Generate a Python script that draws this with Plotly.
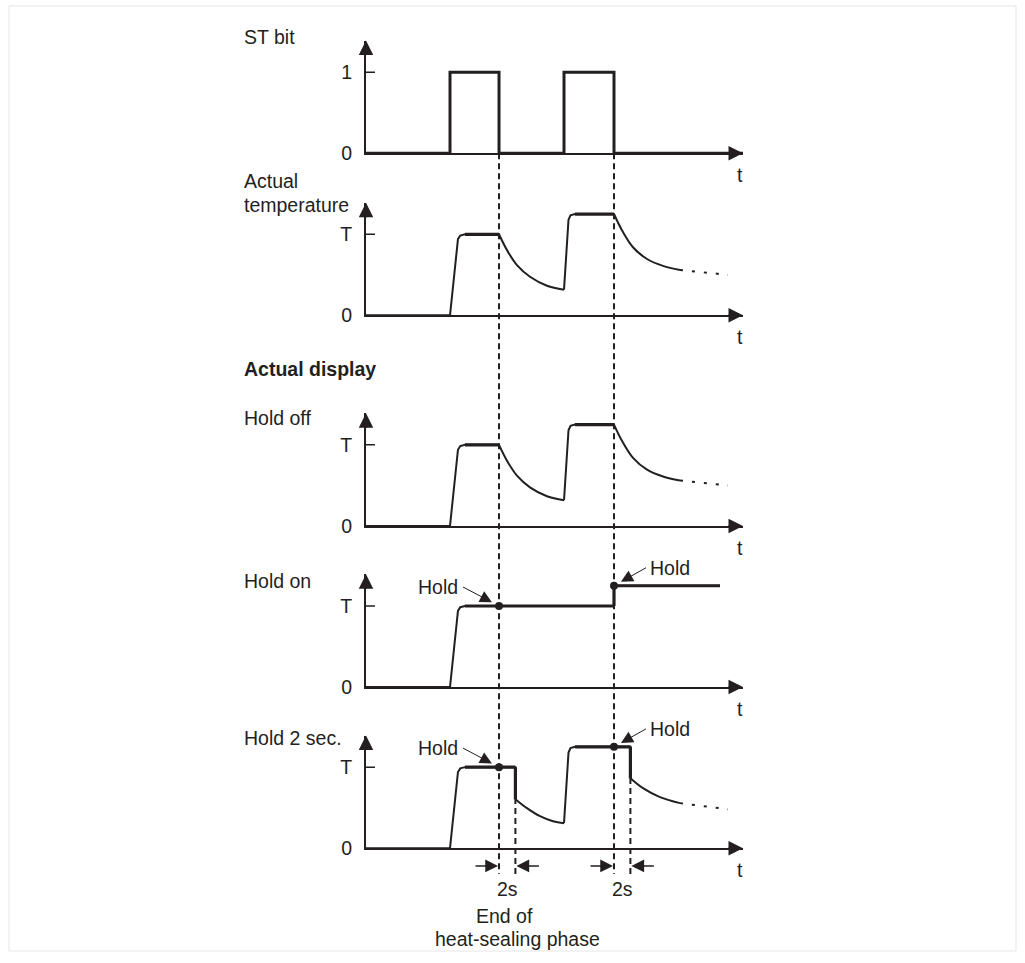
import plotly.graph_objects as go

W, H = 1025, 963
INK = "#231f20"
FONT = "Liberation Sans, Arial, sans-serif"
FS = 19.5

# time axis in seconds, levels in units of T (ST bit: 0/1)
st_t = [0, 10.25, 10.25, 16.23, 16.23, 24.16, 24.16, 30.26, 30.26, 46]
st_v = [0, 0, 1, 1, 0, 0, 1, 1, 0, 0]

temp_t = [0, 10.25, 11.22, 11.5, 12.08, 16.23, 17.2, 18.42, 20.01, 22.08, 24.16,
          24.71, 24.95, 25.5, 30.26, 31.23, 32.58, 34.29, 36.24, 38.31]
temp_v = [0, 0, 0.94, 0.985, 1, 1, 0.805, 0.62, 0.476, 0.366, 0.317,
          1.18, 1.235, 1.25, 1.25, 1.05, 0.84, 0.695, 0.61, 0.56]
temp_tail_t = [38.31, 44.17]
temp_tail_v = [0.56, 0.50]

hold_on_t = [0, 10.25, 11.22, 11.5, 12.08, 30.26, 30.26, 43.19]
hold_on_v = [0, 0, 0.94, 0.985, 1, 1, 1.25, 1.25]

hold2_t = [0, 10.25, 11.22, 11.5, 12.08, 18.23, 18.23, 19.64, 21.23, 22.82, 24.16,
           24.71, 24.95, 25.5, 32.26, 32.26, 33.8, 35.87, 38.31]
hold2_v = [0, 0, 0.94, 0.985, 1, 1, 0.605, 0.494, 0.395, 0.333, 0.309,
           1.18, 1.235, 1.25, 1.25, 0.864, 0.741, 0.63, 0.556]
hold2_tail_t = [38.31, 44.17]
hold2_tail_v = [0.556, 0.48]

st_off = [16.23, 30.26]      # end of heat-sealing phase
hold_level = [1, 1.25]       # value that gets held
hold_2s = [18.23, 32.26]     # end of the 2 s hold

T_MAX = 46
PX_PER_UNIT = 82.0
X0, X1 = 366, 743


def py(p):
    return 1 - p / H


def px(p):
    return p / W


# zero line / arrow tip of every panel (pixels from top)
panels = [
    dict(zero=155, tip=41, ticks=["0", "1"]),
    dict(zero=319, tip=205, ticks=["0", "T"]),
    dict(zero=532, tip=418, ticks=["0", "T"]),
    dict(zero=695, tip=581, ticks=["0", "T"]),
    dict(zero=858, tip=744, ticks=["0", "T"]),
]

fig = go.Figure()
annotations = []
shapes = []

for i, p in enumerate(panels, start=1):
    s = "" if i == 1 else str(i)
    fig.layout["xaxis" + s] = dict(
        domain=[px(X0), px(X1)], range=[0, T_MAX], anchor="y" + s,
        showline=True, linewidth=2, linecolor=INK, showticklabels=False,
        ticks="", showgrid=False, zeroline=False, fixedrange=True)
    fig.layout["yaxis" + s] = dict(
        domain=[py(p["zero"]), py(p["tip"])],
        range=[0, (p["zero"] - p["tip"]) / PX_PER_UNIT], anchor="x" + s,
        showline=True, linewidth=2, linecolor=INK, tickvals=[0, 1],
        ticktext=p["ticks"], ticks="", ticklabelstandoff=8,
        tickfont=dict(size=FS, color=INK, family=FONT),
        showgrid=False, zeroline=False, fixedrange=True)
    # axis arrow heads
    annotations.append(dict(xref=f"x{s} domain", yref=f"y{s} domain", x=0, y=1,
                            ax=0, ay=16, text="", showarrow=True, arrowhead=2,
                            arrowsize=1.45, arrowwidth=2, arrowcolor=INK))
    annotations.append(dict(xref=f"x{s} domain", yref=f"y{s} domain", x=1, y=0,
                            ax=-16, ay=0, text="", showarrow=True, arrowhead=2,
                            arrowsize=1.45, arrowwidth=2, arrowcolor=INK))
    # "t" under the time axis
    annotations.append(dict(xref=f"x{s} domain", yref=f"y{s} domain", x=1, y=0,
                            xanchor="center", yanchor="middle", yshift=-22, xshift=-3,
                            text="t", showarrow=False, font=dict(size=FS, color=INK)))
    # tick crossing the axis at 1 / T
    shapes.append(dict(type="line", xref="x" + s, yref="y" + s, xsizemode="pixel",
                       xanchor=0, x0=-9, x1=9, y0=1, y1=1,
                       line=dict(color=INK, width=1.5)))


def add_line(t, v, i, width=2, dash=None, shape="linear"):
    s = "" if i == 1 else str(i)
    fig.add_trace(go.Scatter(x=t, y=v, xaxis="x" + s, yaxis="y" + s, mode="lines",
                             line=dict(color=INK, width=width, dash=dash, shape=shape),
                             hoverinfo="skip", showlegend=False))


def add_curve(t, v, i):
    # edges and plateaus straight, cooling parts smoothed
    runs = []
    for k in range(len(t) - 1):
        decay = v[k + 1] < v[k] and t[k + 1] > t[k]
        if runs and runs[-1][0] == decay:
            runs[-1][1].append(k + 1)
        else:
            runs.append((decay, [k, k + 1]))
    for decay, idx in runs:
        add_line([t[j] for j in idx], [v[j] for j in idx], i, width=2,
                 shape="spline" if decay else "linear")
    # plateaus and held steps drawn heavier
    xs, ys = [], []
    for k in range(len(t) - 1):
        if v[k] > 0 and (v[k] == v[k + 1] or t[k] == t[k + 1]):
            xs += [t[k], t[k + 1], None]
            ys += [v[k], v[k + 1], None]
    add_line(xs, ys, i, width=3.2)


add_line(st_t, st_v, 1, width=3)
add_curve(temp_t, temp_v, 2)
add_line(temp_tail_t, temp_tail_v, 2, dash="3px,9px")
add_curve(temp_t, temp_v, 3)
add_line(temp_tail_t, temp_tail_v, 3, dash="3px,9px")
add_curve(hold_on_t, hold_on_v, 4)
add_curve(hold2_t, hold2_v, 5)
add_line(hold2_tail_t, hold2_tail_v, 5, dash="3px,9px")

# held values
for i in (4, 5):
    fig.add_trace(go.Scatter(x=st_off, y=hold_level, xaxis=f"x{i}", yaxis=f"y{i}",
                             mode="markers", marker=dict(color=INK, size=8),
                             cliponaxis=False, hoverinfo="skip", showlegend=False))

# "Hold" labels
for i in (4, 5):
    annotations.append(dict(xref=f"x{i}", yref=f"y{i}", x=st_off[0], y=hold_level[0],
                            text="Hold", showarrow=True, ax=-36, ay=-19,
                            xanchor="right", yanchor="middle", borderpad=4, standoff=8,
                            arrowhead=2, arrowsize=2.4, arrowwidth=1, arrowcolor=INK,
                            font=dict(size=FS, color=INK)))
    annotations.append(dict(xref=f"x{i}", yref=f"y{i}", x=st_off[1], y=hold_level[1],
                            text="Hold", showarrow=True, ax=32, ay=-18,
                            xanchor="left", yanchor="middle", borderpad=3, standoff=8,
                            arrowhead=2, arrowsize=2.4, arrowwidth=1, arrowcolor=INK,
                            font=dict(size=FS, color=INK)))

# dashed guides
for t in st_off:
    shapes.append(dict(type="line", xref="x", yref="paper", x0=t, x1=t,
                       y0=py(155), y1=py(884), layer="below",
                       line=dict(color=INK, width=2, dash="6px,4px")))
for t in hold_2s:
    shapes.append(dict(type="line", xref="x", yref="paper", x0=t, x1=t,
                       y0=py(777), y1=py(884), layer="below",
                       line=dict(color=INK, width=2, dash="6px,4px")))

# 2 s markers
for a, b in zip(st_off, hold_2s):
    annotations.append(dict(xref="x5", yref="paper", x=a, y=py(876), ax=-25, ay=0,
                            text="", showarrow=True, arrowhead=2, arrowsize=1.7,
                            arrowwidth=1.5, arrowcolor=INK, standoff=1))
    annotations.append(dict(xref="x5", yref="paper", x=b, y=py(876), ax=25, ay=0,
                            text="", showarrow=True, arrowhead=2, arrowsize=1.7,
                            arrowwidth=1.5, arrowcolor=INK, standoff=1))
    annotations.append(dict(xref="x5", yref="paper", x=(a + b) / 2, y=py(899),
                            xanchor="center", yanchor="middle", text="2s",
                            showarrow=False, font=dict(size=FS, color=INK)))

annotations.append(dict(xref="paper", yref="paper", x=px(504), y=py(927),
                        xanchor="center", yanchor="middle", text="End of",
                        showarrow=False, font=dict(size=FS, color=INK)))
annotations.append(dict(xref="paper", yref="paper", x=px(517), y=py(950),
                        xanchor="center", yanchor="middle", text="heat-sealing phase",
                        showarrow=False, font=dict(size=FS, color=INK)))

# panel captions
captions = [("ST bit", 37, False), ("Actual", 183, False), ("temperature", 207, False),
            ("Actual display", 373, True), ("Hold off", 423, False),
            ("Hold on", 588, False), ("Hold 2 sec.", 747, False)]
for txt, y, bold in captions:
    annotations.append(dict(xref="paper", yref="paper", x=px(242), y=py(y),
                            xanchor="left", yanchor="middle", showarrow=False,
                            text=f"<b>{txt}</b>" if bold else txt,
                            font=dict(size=FS, color=INK)))

# light frame
shapes.append(dict(type="rect", xref="paper", yref="paper", x0=px(9), x1=px(1016),
                   y0=py(962), y1=py(6), line=dict(color="#e6e6e6", width=1),
                   layer="below"))

fig.update_layout(
    width=W, height=H, margin=dict(l=0, r=0, t=0, b=0),
    paper_bgcolor="white", plot_bgcolor="rgba(0,0,0,0)",
    font=dict(family=FONT, color=INK),
    showlegend=False, hovermode=False,
    annotations=annotations, shapes=shapes,
)

# drop the browser's default body margin so the figure sits at the page origin
fig.write_html("out.html", config={"displayModeBar": False},
               post_script="document.body.style.margin = '0';")
